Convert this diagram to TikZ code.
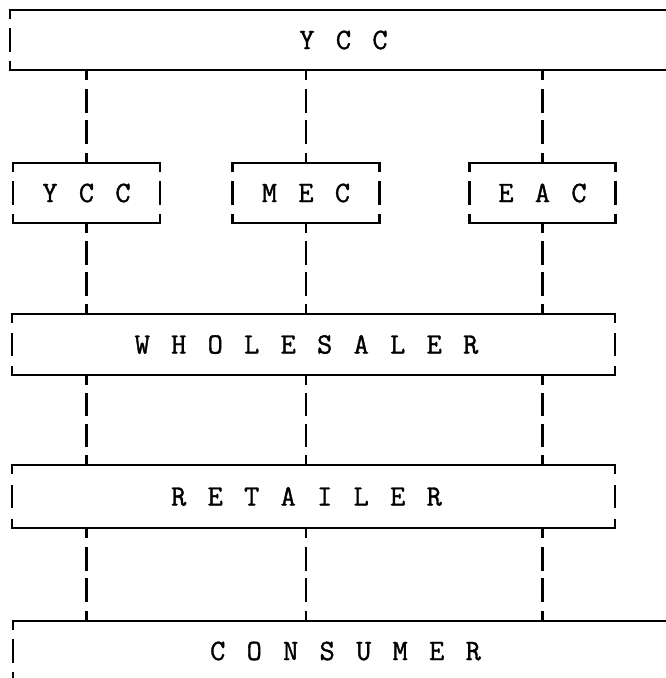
\documentclass[tikz,border=0pt]{standalone}
\usepackage{fontspec}
\usetikzlibrary{calc}
\newfontfamily\tyfont[FakeBold=1.2]{Latin Modern Mono}
\newcommand\labfont{\tyfont\fontsize{29.5}{30}\selectfont}
\def\spacedi#1{\ifx\relax#1\else\makebox[36.5pt]{#1}\expandafter\spacedi\fi}
\newcommand\spaced[1]{\spacedi#1\relax}
\tikzset{
  ln/.style={line width=2.2pt, line cap=rect},
  box/.style={draw=none, inner sep=0pt, outer sep=0pt, font=\labfont},
}
% vertical side of a box: corner ticks and one middle dash
\newcommand\vside[2]{%
  \draw[ln] (#1) -- ($(#1)+(0,8)$);
  \draw[ln] ($(#1)!0.5!(#2)+(0,-10.5)$) -- ($(#1)!0.5!(#2)+(0,10.5)$);
  \draw[ln] (#2) -- ($(#2)+(0,-8)$);}
% dashed connector between two boxes
\newcommand\dconn[2]{%
  \draw[ln] (#1) -- ($(#1)+(0,9)$);
  \draw[ln] ($(#1)!0.5!(#2)+(0,-26)$) -- ($(#1)!0.5!(#2)+(0,-5)$);
  \draw[ln] ($(#1)!0.5!(#2)+(0,5)$) -- ($(#1)!0.5!(#2)+(0,26)$);
  \draw[ln] (#2) -- ($(#2)+(0,-9)$);}
\newcommand\hsides[1]{%
  \draw[ln] (#1.north west) -- (#1.north east);
  \draw[ln] (#1.south west) -- (#1.south east);}
\begin{document}
\begin{tikzpicture}[x=1pt,y=-1pt]
\useasboundingbox (0,0) rectangle (666,678);
\clip (0,0) rectangle (666,678);
% boxes
\node[box, minimum width=667pt, minimum height=60pt] (top) at (343.5,40) {\spaced{YCC}};
\node[box, minimum width=147pt, minimum height=60pt] (ycc) at (86.5,193) {\spaced{YCC}};
\node[box, minimum width=147pt, minimum height=60pt] (mec) at (306,193) {\spaced{MEC}};
\node[box, minimum width=146pt, minimum height=60pt] (eac) at (542.5,193) {\spaced{EAC}};
\node[box, minimum width=603pt, minimum height=61pt] (whl) at (313.5,344.5) {\spaced{WHOLESALER}\hspace*{14pt}};
\node[box, minimum width=603pt, minimum height=63pt] (ret) at (313.5,496.5) {\spaced{RETAILER}\hspace*{14pt}};
\node[box, minimum width=665pt, minimum height=60pt] (con) at (345.5,651) {\spaced{CONSUMER}};
% box outlines
\foreach \b in {top,ycc,mec,eac,whl,ret,con}{\hsides{\b}}
\vside{top.north west}{top.south west}
\foreach \b in {ycc,mec,eac,whl,ret}{%
  \vside{\b.north west}{\b.south west}
  \vside{\b.north east}{\b.south east}}
\vside{con.north west}{con.south west}
% connectors
\foreach \c in {ycc,mec,eac}{%
  \dconn{\c.north |- top.south}{\c.north}
  \dconn{\c.south}{\c.south |- whl.north}
  \dconn{\c.south |- whl.south}{\c.south |- ret.north}
  \dconn{\c.south |- ret.south}{\c.south |- con.north}}
\end{tikzpicture}
\end{document}
